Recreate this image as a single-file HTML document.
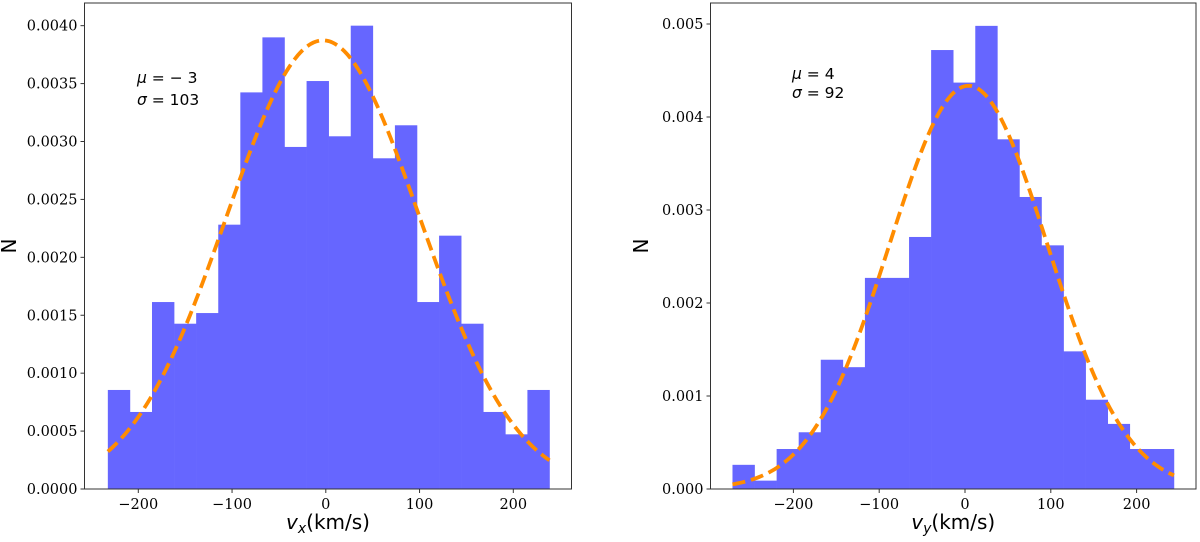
<!DOCTYPE html>
<html><head><meta charset="utf-8"><style>
html,body{margin:0;padding:0;background:#fff;}
svg{display:block;}
.tk{font-family:"DejaVu Serif","Liberation Serif",serif;font-size:14.5px;fill:#000;}
.lab{font-family:"DejaVu Sans","Liberation Sans",sans-serif;font-size:20px;fill:#000;}
.ann{font-family:"DejaVu Sans","Liberation Sans",sans-serif;font-size:15.5px;fill:#000;}
</style></head><body>
<svg id="fig" width="1200" height="542" viewBox="0 0 1200 542" xmlns="http://www.w3.org/2000/svg"></svg>
<script>
// Left panel data (vx)
const vxStart = -232.5, vxEnd = 238.6;
const vxHeights = [0.000855,0.000665,0.001614,0.001427,0.001519,0.002282,0.003424,0.003899,0.002953,0.003522,0.003045,0.004,0.002855,0.00314,0.001614,0.002187,0.001427,0.000665,0.000472,0.000855];
const vxFit = [-3, 103];
const vxXTicks = [-200,-100,0,100,200];
const vxYTicks = [0,0.0005,0.001,0.0015,0.002,0.0025,0.003,0.0035,0.004];
const vxYLabels = ["0.0000","0.0005","0.0010","0.0015","0.0020","0.0025","0.0030","0.0035","0.0040"];
// Right panel data (vy)
const vyStart = -271, vyEnd = 243.5;
const vyHeights = [0.00026,0.00009,0.00043,0.00061,0.00139,0.00131,0.00227,0.00227,0.00271,0.00472,0.00437,0.00498,0.00376,0.00314,0.00262,0.00148,0.00096,0.0007,0.00043,0.00043];
const vyFit = [4, 92];
const vyXTicks = [-200,-100,0,100,200];
const vyYTicks = [0,0.001,0.002,0.003,0.004,0.005];
const vyYLabels = ["0.000","0.001","0.002","0.003","0.004","0.005"];

const NS="http://www.w3.org/2000/svg";
const svg=document.getElementById('fig');
function mk(tag,attrs,parent){const e=document.createElementNS(NS,tag);for(const k in attrs)e.setAttribute(k,attrs[k]);(parent||svg).appendChild(e);return e;}

function panel(o){
  const g=mk('g',{});
  
  
  const X=v=>o.x0+(v-o.xmin)*(o.x1-o.x0)/(o.xmax-o.xmin);
  const Y=v=>o.y0-(v-o.ymin)*(o.y0-o.y1)/(o.ymax-o.ymin);
  const n=o.heights.length, w=(o.end-o.start)/n;
  o.heights.forEach((h,i)=>{
    const a=X(o.start+i*w), b=X(o.start+(i+1)*w);
    const r=mk('rect',{x:a,y:Y(h),width:b-a+0.3,height:Y(0)-Y(h),fill:'#6666ff'},g);
    
    
  });
  const mu=o.fit[0], s=o.fit[1];
  let d='';
  for(let k=0;k<=200;k++){const v=o.start+(o.end-o.start)*k/200;const p=Math.exp(-0.5*((v-mu)/s)**2)/(s*Math.sqrt(2*Math.PI));d+=(k?'L':'M')+X(v).toFixed(2)+','+Y(p).toFixed(2);}
  const c=mk('path',{d:d,fill:'none',stroke:'#ff8c00','stroke-width':3.8,'stroke-dasharray':'13,6'},g);
  
  
  const f=mk('rect',{x:o.x0,y:o.y1,width:o.x1-o.x0,height:o.y0-o.y1,fill:'none',stroke:'#333','stroke-width':1},g);
  
  
  o.xticks.forEach(t=>{
    const x=X(t);
    mk('line',{x1:x,x2:x,y1:o.y0,y2:o.y0+4,stroke:'#333'},g);
    const tx=mk('text',{x:x,y:o.y0+20,'text-anchor':'middle',class:'tk'},g);
    tx.textContent=(t<0?'\u2212'+(-t):String(t));
    
    
  });
  o.yticks.forEach((t,i)=>{
    const y=Y(t);
    mk('line',{x1:o.x0-4,x2:o.x0,y1:y,y2:y,stroke:'#333'},g);
    const tx=mk('text',{x:o.x0-7,y:y+5,'text-anchor':'end',class:'tk'},g);
    tx.textContent=o.ylabels[i];
    
    
  });
  const xl=mk('text',{x:(o.x0+o.x1)/2,y:529,'text-anchor':'middle',class:'lab'},g);
  xl.innerHTML='<tspan font-style="italic">v</tspan><tspan font-style="italic" font-size="14" dy="4">'+o.sub+'</tspan><tspan dy="-4">(km/s)</tspan>';
  
  
  const yl=mk('text',{x:o.nx,y:246,'text-anchor':'middle',class:'lab',transform:'rotate(-90 '+o.nx+' 246)'},g);
  yl.textContent='N';
  
  
  const a1=mk('text',{x:o.ax,y:o.ay,class:'ann'},g);
  a1.innerHTML='<tspan font-style="italic">\u03bc</tspan> = '+o.muTxt;
  
  
  const a2=mk('text',{x:o.ax,y:o.ay+o.gap,class:'ann'},g);
  a2.innerHTML='<tspan font-style="italic">\u03c3</tspan> = '+o.sgTxt;
  
  
}
panel({name:'vx-histogram-panel',x0:84.5,x1:571.5,y0:489,y1:3,xmin:-200-(138.3-84.5)/0.9375,xmax:-200+(571.5-138.3)/0.9375,ymin:0,ymax:(489-3)*3/347500,
  start:vxStart,end:vxEnd,heights:vxHeights,fit:vxFit,xticks:vxXTicks,yticks:vxYTicks,ylabels:vxYLabels,sub:'x',nx:16,ax:137,ay:83,gap:22,muTxt:'\u2212 3',sgTxt:'103'});
panel({name:'vy-histogram-panel',x0:710.5,x1:1196,y0:489,y1:3,xmin:-(965-710.5)/0.858,xmax:(1196-965)/0.858,ymin:0,ymax:(489-3)/93000,
  start:vyStart,end:vyEnd,heights:vyHeights,fit:vyFit,xticks:vyXTicks,yticks:vyYTicks,ylabels:vyYLabels,sub:'y',nx:648,ax:792,ay:79,gap:19,muTxt:'4',sgTxt:'92'});
</script>
</body></html>
